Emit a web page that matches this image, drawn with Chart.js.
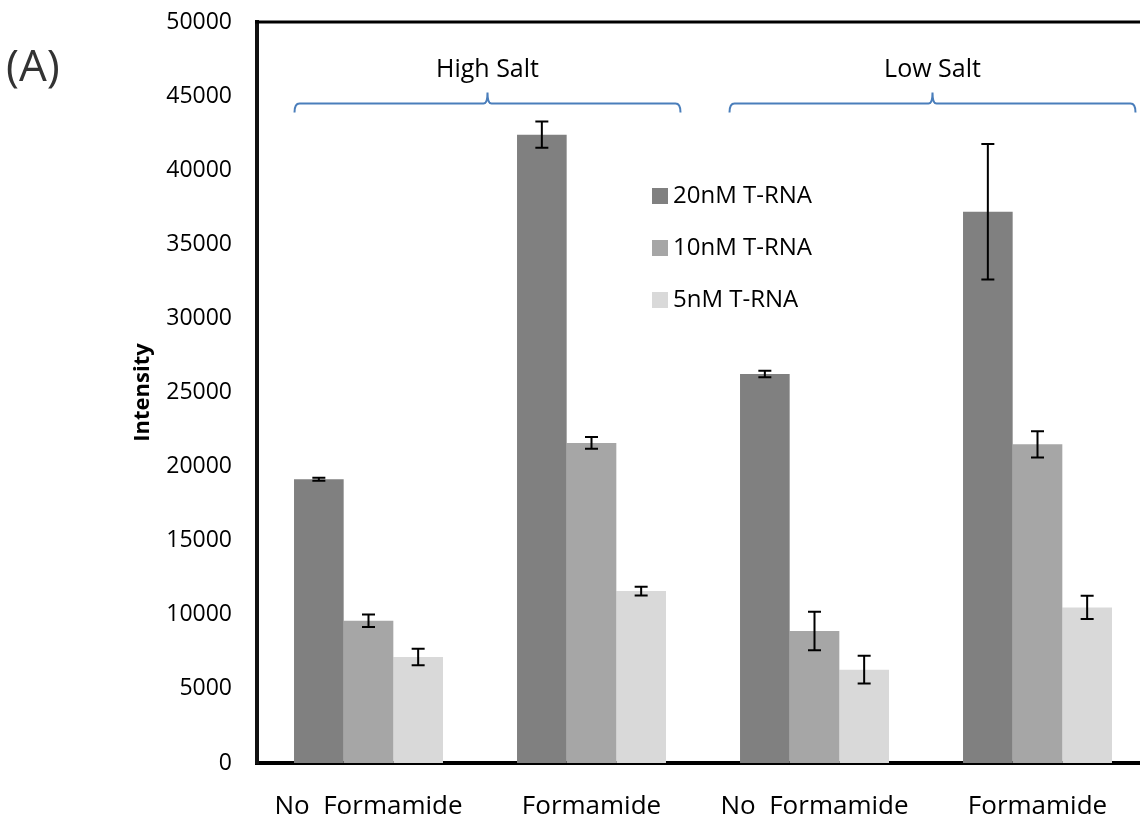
<!DOCTYPE html>
<html>
<head>
<meta charset="utf-8">
<script src="https://cdn.jsdelivr.net/npm/chart.js@4.4.1/dist/chart.umd.min.js"></script>
<style>
  html, body { margin: 0; padding: 0; background: #fff; overflow: hidden; }
  #wrap { width: 1152px; height: 821px; }
</style>
</head>
<body>
<div id="wrap"><canvas id="myChart" width="1152" height="821"></canvas></div>
<script>
var categories = ["No  Formamide", "Formamide", "No  Formamide", "Formamide"];
var seriesNames = ["20nM T-RNA", "10nM T-RNA", "5nM T-RNA"];
var values20 = [19150, 42400, 26250, 37200];
var values10 = [9600, 21600, 8900, 21500];
var values5 = [7150, 11600, 6300, 10500];
var err20 = [100, 880, 220, 4570];
var err10 = [420, 400, 1300, 880];
var err5 = [560, 300, 930, 790];
var groupLabels = ["High Salt", "Low Salt"];
var groupSpans = [[0, 1], [2, 3]];
var barColors = ["#808080", "#a6a6a6", "#d9d9d9"];

var FONT = "'Open Sans', sans-serif";

// error bars, drawn on top of each bar
var errorBars = {
  id: "errorBars",
  afterDatasetsDraw: function (chart) {
    var ctx = chart.ctx, y = chart.scales.y;
    var errs = [err20, err10, err5];
    ctx.save();
    ctx.strokeStyle = "#000";
    ctx.lineWidth = 2;
    chart.data.datasets.forEach(function (ds, i) {
      chart.getDatasetMeta(i).data.forEach(function (bar, j) {
        var v = ds.data[j], e = errs[i][j];
        var y1 = y.getPixelForValue(v + e), y2 = y.getPixelForValue(v - e);
        ctx.beginPath();
        ctx.moveTo(bar.x, y1); ctx.lineTo(bar.x, y2);
        ctx.moveTo(bar.x - 6.5, y1); ctx.lineTo(bar.x + 6.5, y1);
        ctx.moveTo(bar.x - 6.5, y2); ctx.lineTo(bar.x + 6.5, y2);
        ctx.stroke();
      });
    });
    ctx.restore();
  }
};

// braces, legend, frame and extra labels
var extras = {
  id: "extras",
  afterDraw: function (chart) {
    var ctx = chart.ctx, x = chart.scales.x, y = chart.scales.y, a = chart.chartArea;
    ctx.save();

    // top frame line
    ctx.strokeStyle = "#000";
    ctx.lineWidth = 3;
    ctx.beginPath();
    ctx.moveTo(a.left - 2, a.top); ctx.lineTo(a.right, a.top);
    ctx.stroke();

    // braces
    var padL = [74, 85], padR = [89, 98];
    ctx.strokeStyle = "#4a7ebb";
    ctx.lineWidth = 2;
    groupLabels.forEach(function (lab, k) {
      var x0 = x.getPixelForValue(groupSpans[k][0]) - padL[k];
      var x1 = x.getPixelForValue(groupSpans[k][1]) + padR[k];
      var xm = (x0 + x1) / 2;
      var ly = y.getPixelForValue(44500), ey = y.getPixelForValue(43900), ty = y.getPixelForValue(45250);
      ctx.beginPath();
      ctx.moveTo(x0, ey);
      ctx.quadraticCurveTo(x0, ly, x0 + 5, ly);
      ctx.lineTo(xm - 4, ly);
      ctx.quadraticCurveTo(xm, ly, xm, ty);
      ctx.quadraticCurveTo(xm, ly, xm + 4, ly);
      ctx.lineTo(x1 - 5, ly);
      ctx.quadraticCurveTo(x1, ly, x1, ey);
      ctx.stroke();
      ctx.fillStyle = "#000";
      ctx.font = "25px " + FONT;
      ctx.textAlign = "center";
      ctx.textBaseline = "middle";
      ctx.fillText(lab, xm, y.getPixelForValue(46750));
    });

    // legend
    ctx.font = "24px " + FONT;
    ctx.textAlign = "left";
    ctx.textBaseline = "middle";
    chart.data.datasets.forEach(function (ds, i) {
      var ry = a.top + 174 + i * 52;
      ctx.fillStyle = ds.backgroundColor;
      ctx.fillRect(a.left + 395, ry - 8, 16, 16);
      ctx.fillStyle = "#000";
      ctx.fillText(ds.label, a.left + 416, ry);
    });

    // axis title
    ctx.save();
    ctx.translate(143, (a.top + a.bottom) / 2);
    ctx.rotate(-Math.PI / 2);
    ctx.font = "bold 22px " + FONT;
    ctx.textAlign = "center";
    ctx.textBaseline = "middle";
    ctx.fillText("Intensity", 0, 0);
    ctx.restore();

    // panel label
    ctx.font = "44px " + FONT;
    ctx.fillStyle = "#333";
    ctx.textAlign = "left";
    ctx.textBaseline = "middle";
    ctx.fillText("(A)", 6, 68);

    ctx.restore();
  }
};

new Chart("myChart", {
  type: "bar",
  data: {
    labels: categories,
    datasets: [
      { label: seriesNames[0], data: values20, backgroundColor: barColors[0] },
      { label: seriesNames[1], data: values10, backgroundColor: barColors[1] },
      { label: seriesNames[2], data: values5, backgroundColor: barColors[2] }
    ]
  },
  options: {
    responsive: false,
    devicePixelRatio: 1,
    animation: false,
    layout: { padding: { top: 22, right: 3, left: 0, bottom: 0 } },
    datasets: { bar: { categoryPercentage: 0.668, barPercentage: 1.0 } },
    plugins: { legend: { display: false }, tooltip: { enabled: false } },
    scales: {
      x: {
        grid: { display: false, drawTicks: false },
        border: { display: true, color: "#000", width: 4 },
        ticks: { color: "#000", font: { family: FONT, size: 26 }, padding: 28, maxRotation: 0, autoSkip: false },
        afterFit: function (s) { s.height = 58; s.paddingLeft = 0; s.paddingRight = 0; }
      },
      y: {
        min: 0, max: 50000,
        grid: { display: false, drawTicks: false },
        border: { display: true, color: "#111", width: 4 },
        ticks: {
          stepSize: 5000, color: "#000", font: { family: FONT, size: 23 }, padding: 25,
          callback: function (v) { return String(v); }
        },
        afterFit: function (s) { s.width = 257; s.paddingTop = 0; s.paddingBottom = 0; }
      }
    }
  },
  plugins: [errorBars, extras]
});
</script>
</body>
</html>
